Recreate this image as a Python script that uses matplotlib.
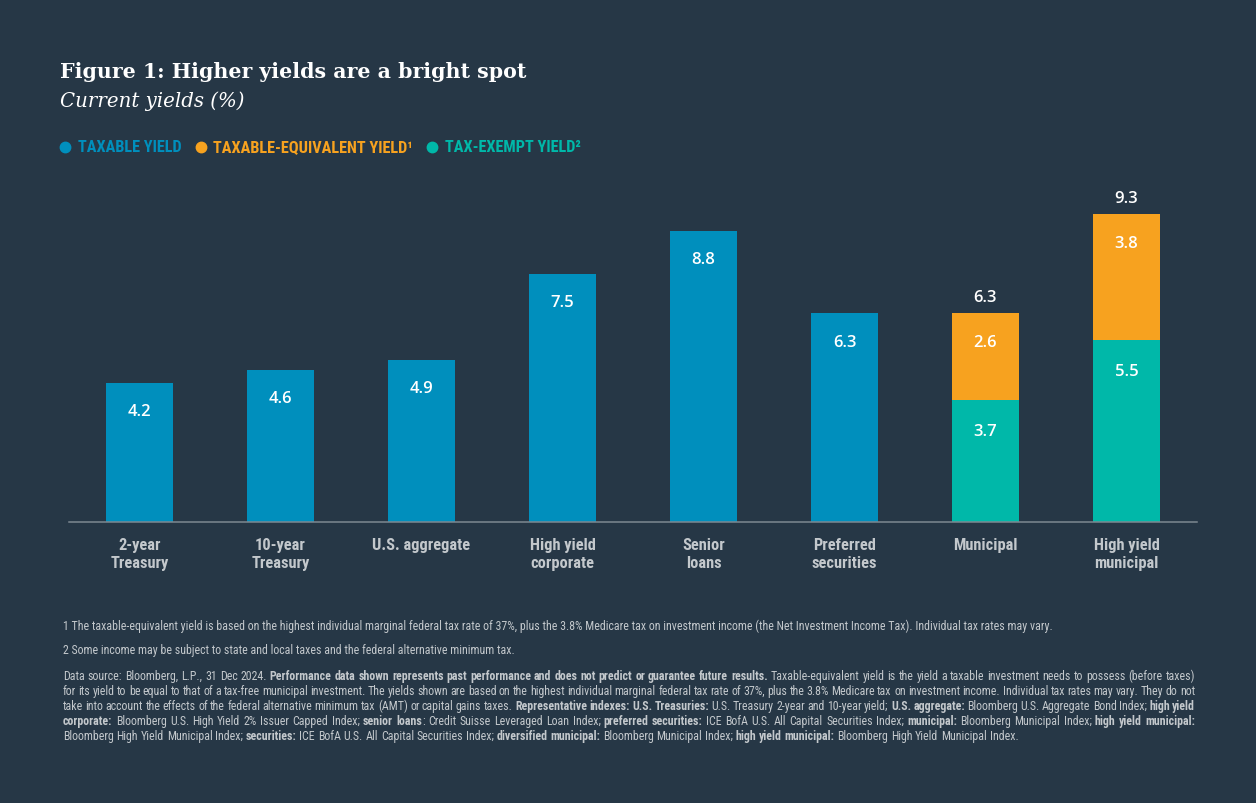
import matplotlib
matplotlib.use('Agg')
import matplotlib.pyplot as plt
from matplotlib import font_manager
from matplotlib.lines import Line2D

categories = ['2-year\nTreasury', '10-year\nTreasury', 'U.S. aggregate', 'High yield\ncorporate',
              'Senior\nloans', 'Preferred\nsecurities', 'Municipal', 'High yield\nmunicipal']
taxable_yield = [4.2, 4.6, 4.9, 7.5, 8.8, 6.3, None, None]
tax_exempt_yield = [None, None, None, None, None, None, 3.7, 5.5]
taxable_equiv_add = [None, None, None, None, None, None, 2.6, 3.8]
taxable_equiv_total = [None, None, None, None, None, None, 6.3, 9.3]

legend_labels = ['TAXABLE YIELD', 'TAXABLE-EQUIVALENT YIELD\u00b9', 'TAX-EXEMPT YIELD\u00b2']

footnote_1 = ('1 The taxable-equivalent yield is based on the highest individual marginal federal tax rate of 37%, '
              'plus the 3.8% Medicare tax on investment income (the Net Investment Income Tax). Individual tax rates may vary.')
footnote_2 = '2 Some income may be subject to state and local taxes and the federal alternative minimum tax.'
source_lines = [
    [('Data source: Bloomberg, L.P., 31 Dec 2024. ', False),
     ('Performance data shown represents past performance and does not predict or guarantee future results.', True),
     (' Taxable-equivalent yield is the yield a taxable investment needs to possess (before taxes)', False)],
    [('for its yield to be equal to that of a tax-free municipal investment. The yields shown are based on the highest '
      'individual marginal federal tax rate of 37%, plus the 3.8% Medicare tax on investment income. Individual tax rates '
      'may vary. They do not', False)],
    [('take into account the effects of the federal alternative minimum tax (AMT) or capital gains taxes. ', False),
     ('Representative indexes: U.S. Treasuries:', True),
     (' U.S. Treasury 2-year and 10-year yield; ', False),
     ('U.S. aggregate:', True),
     (' Bloomberg U.S. Aggregate Bond Index; ', False),
     ('high yield', True)],
    [('corporate:', True),
     (' Bloomberg U.S. High Yield 2% Issuer Capped Index; ', False),
     ('senior loans', True),
     (': Credit Suisse Leveraged Loan Index; ', False),
     ('preferred securities:', True),
     (' ICE BofA U.S. All Capital Securities Index; ', False),
     ('municipal:', True),
     (' Bloomberg Municipal Index; ', False),
     ('high yield municipal:', True)],
    [('Bloomberg High Yield Municipal Index; ', False),
     ('securities:', True),
     (' ICE BofA U.S. All Capital Securities Index; ', False),
     ('diversified municipal:', True),
     (' Bloomberg Municipal Index; ', False),
     ('high yield municipal:', True),
     (' Bloomberg High Yield Municipal Index.', False)],
]

BG = '#263746'
BLUE = '#008fbd'
ORANGE = '#f7a21f'
TEAL = '#00b8a9'
GREY = '#c3c8cc'
AXIS = '#7d8891'

avail = {f.name for f in font_manager.fontManager.ttflist}


def pick(*names):
    for n in names:
        if n in avail:
            return n
    return 'DejaVu Sans'


NARROW = pick('Liberation Sans Narrow', 'DejaVu Sans Condensed', 'Roboto Condensed', 'Liberation Sans')
SANS = pick('Open Sans', 'Roboto', 'Lato')
SERIF = pick('DejaVu Serif', 'Liberation Serif')

W, H = 1256, 804
fig = plt.figure(figsize=(W / 100, H / 100), dpi=100, facecolor=BG)
renderer = fig.canvas.get_renderer()


def fx(px):
    return px / W


def fy(py):
    return 1 - py / H


def text_width(t):
    return t.get_window_extent(renderer=renderer).width


# chart area
ax = fig.add_axes([fx(69), fy(523), fx(1197) - fx(69), 331 / H])
ax.set_facecolor(BG)
x = list(range(len(categories)))
bw = 0.48

blue_x = [i for i, v in zip(x, taxable_yield) if v is not None]
blue_v = [v for v in taxable_yield if v is not None]
teal_x = [i for i, v in zip(x, tax_exempt_yield) if v is not None]
teal_v = [v for v in tax_exempt_yield if v is not None]
orange_v = [v for v in taxable_equiv_add if v is not None]
total_v = [v for v in taxable_equiv_total if v is not None]

ax.bar(blue_x, blue_v, width=bw, color=BLUE)
ax.bar(teal_x, teal_v, width=bw, color=TEAL)
ax.bar(teal_x, orange_v, width=bw, bottom=teal_v, color=ORANGE)

lab = dict(ha='center', va='center', color='white', fontsize=12, family=SANS,
           fontweight='semibold', textcoords='offset points')
for i, v in zip(blue_x, blue_v):
    ax.annotate(f'{v:.1f}', (i, v), xytext=(0, -20.5), **lab)
for i, v in zip(teal_x, teal_v):
    ax.annotate(f'{v:.1f}', (i, v), xytext=(0, -22.5), **lab)
for i, v, t in zip(teal_x, orange_v, total_v):
    ax.annotate(f'{v:.1f}', (i, t), xytext=(0, -20.5), **lab)
    ax.annotate(f'{t:.1f}', (i, t), xytext=(0, 11.5), **lab)

ax.set_xlim(-0.5, len(categories) - 0.5)
ax.set_ylim(0, 10)
ax.set_yticks([])
ax.set_xticks(x)
ax.set_xticklabels(categories, color=GREY, fontsize=11.8, family=NARROW,
                   fontweight='bold', linespacing=1.2)
ax.tick_params(axis='x', length=0, pad=11)
for s in ['top', 'left', 'right']:
    ax.spines[s].set_visible(False)
ax.spines['bottom'].set_color(AXIS)
ax.spines['bottom'].set_linewidth(1.1)

# title block
fig.text(fx(60), fy(78), 'Figure 1: Higher yields are a bright spot', color='white',
         fontsize=14.8, fontweight='bold', family=SERIF, va='baseline')
fig.text(fx(60), fy(107), 'Current yields (%)', color='white', fontsize=14.2,
         fontstyle='italic', family=SERIF, va='baseline')

# legend
lx = 65
for label, c in zip(legend_labels, [BLUE, ORANGE, TEAL]):
    fig.add_artist(Line2D([fx(lx)], [fy(148)], marker='o', markersize=7.5, color=c,
                          transform=fig.transFigure))
    t = fig.text(fx(lx + 12.5), fy(148), label, color=c, fontsize=11.7, family=NARROW,
                 fontweight='bold', va='center')
    lx += 12.5 + text_width(t) + 19.5

# footnotes
FS = 8.6
fig.text(fx(63), fy(630), footnote_1, color=GREY, fontsize=FS, family=NARROW, va='baseline')
fig.text(fx(63), fy(654), footnote_2, color=GREY, fontsize=FS, family=NARROW, va='baseline')


def words_of(parts):
    words = [[]]
    for txt, bold in parts:
        pieces = txt.split(' ')
        for k, p in enumerate(pieces):
            if k > 0:
                words.append([])
            if p:
                words[-1].append((p, bold))
    return [w for w in words if w]


space_w = None
x0, x1 = 63, 1195
for li, parts in enumerate(source_lines):
    yb = 680 + li * 15
    words = words_of(parts)
    placed = []
    total = 0
    for w in words:
        arts = []
        ww = 0
        for frag, bold in w:
            t = fig.text(0, fy(yb), frag, color=GREY, fontsize=FS, family=NARROW,
                         fontweight='bold' if bold else 'normal', va='baseline')
            fw = text_width(t)
            arts.append((t, fw))
            ww += fw
        placed.append((arts, ww))
        total += ww
    if space_w is None:
        a = fig.text(0, 0, 'x x', fontsize=FS, family=NARROW)
        b = fig.text(0, 0, 'xx', fontsize=FS, family=NARROW)
        space_w = text_width(a) - text_width(b)
        a.remove()
        b.remove()
    if li < len(source_lines) - 1:
        gap = (x1 - x0 - total) / (len(placed) - 1)
    else:
        gap = space_w
    cx = x0
    for arts, ww in placed:
        for t, fw in arts:
            t.set_x(fx(cx))
            cx += fw
        cx += gap

fig.savefig('out.png', dpi=100, facecolor=BG)
